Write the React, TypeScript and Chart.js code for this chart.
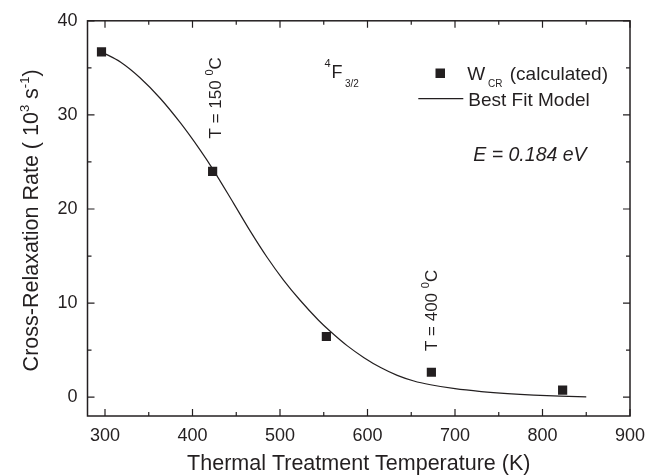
import React, { useEffect, useRef } from "react";
import { Chart, registerables } from "chart.js";

Chart.register(...registerables);

// ---- data ----
const measuredTemperatures = [296, 423, 553, 673, 823];
const measuredRates = [36.7, 24.0, 6.45, 2.65, 0.75];

const fitTemperatures = [296, 318, 340, 363, 386, 409, 423, 447, 466, 485, 504, 523, 544, 558, 577, 596, 615, 634, 653, 672, 700, 730, 760, 790, 820, 850];
const fitRates = [36.7, 35.6, 33.95, 31.77, 29.17, 26.23, 24.27, 20.6, 17.65, 14.9, 12.45, 10.3, 8.18, 6.95, 5.45, 4.2, 3.15, 2.32, 1.72, 1.32, 0.9, 0.6, 0.38, 0.22, 0.11, 0.04];

const xTickValues = [300, 400, 500, 600, 700, 800, 900];
const yTickValues = [0, 10, 20, 30, 40];

const INK = "#231f20";
const FONT = '"Liberation Sans", Arial, Helvetica, sans-serif';

type Part = { t: string; size: number; dy?: number; italic?: boolean };

function setFont(ctx: CanvasRenderingContext2D, p: Part) {
  ctx.font = `${p.italic ? "italic " : ""}${p.size}px ${FONT}`;
}
function measureRich(ctx: CanvasRenderingContext2D, parts: Part[]) {
  let w = 0;
  for (const p of parts) {
    setFont(ctx, p);
    w += ctx.measureText(p.t).width;
  }
  return w;
}
function drawRich(ctx: CanvasRenderingContext2D, parts: Part[], x: number, y: number) {
  let cx = x;
  ctx.textAlign = "left";
  ctx.textBaseline = "alphabetic";
  for (const p of parts) {
    setFont(ctx, p);
    ctx.fillText(p.t, cx, y + (p.dy || 0));
    cx += ctx.measureText(p.t).width;
  }
}

const decorPlugin = {
  id: "decor",
  afterDraw(chart: any) {
    const { ctx, chartArea: a, scales } = chart;
    const xs = scales.x;
    const ys = scales.y;
    ctx.save();
    ctx.strokeStyle = INK;
    ctx.fillStyle = INK;

    // frame
    ctx.lineWidth = 1.5;
    ctx.strokeRect(a.left, a.top, a.right - a.left, a.bottom - a.top);

    // inward ticks on all four sides
    ctx.lineWidth = 1.2;
    ctx.beginPath();
    for (let v = 300; v <= 900; v += 50) {
      const px = xs.getPixelForValue(v);
      const len = v % 100 === 0 ? 7 : 4;
      ctx.moveTo(px, a.bottom);
      ctx.lineTo(px, a.bottom - len);
      ctx.moveTo(px, a.top);
      ctx.lineTo(px, a.top + len);
    }
    for (let v = 0; v <= 40; v += 5) {
      const py = ys.getPixelForValue(v);
      const len = v % 10 === 0 ? 7 : 4;
      ctx.moveTo(a.left, py);
      ctx.lineTo(a.left + len, py);
      ctx.moveTo(a.right, py);
      ctx.lineTo(a.right - len, py);
    }
    ctx.stroke();

    // x axis title
    const xt: Part[] = [{ t: "Thermal Treatment Temperature (K)", size: 21.5 }];
    const xtw = measureRich(ctx, xt);
    drawRich(ctx, xt, (a.left + a.right) / 2 - xtw / 2, 470);

    // y axis title (rotated)
    const yt: Part[] = [
      { t: "Cross-Relaxation Rate ( 10", size: 21.5 },
      { t: "3", size: 13, dy: -9 },
      { t: " s", size: 21.5 },
      { t: "-1", size: 13, dy: -9 },
      { t: ")", size: 21.5 },
    ];
    const ytw = measureRich(ctx, yt);
    ctx.save();
    ctx.translate(38, (a.top + a.bottom) / 2 + 2);
    ctx.rotate(-Math.PI / 2);
    drawRich(ctx, yt, -ytw / 2, 0);
    ctx.restore();

    // rotated temperature annotations
    const rotLabel = (xv: number, yv: number, parts: Part[]) => {
      ctx.save();
      ctx.translate(xs.getPixelForValue(xv), ys.getPixelForValue(yv));
      ctx.rotate(-Math.PI / 2);
      drawRich(ctx, parts, 0, 0);
      ctx.restore();
    };
    rotLabel(432, 27.5, [
      { t: "T = 150 ", size: 17 },
      { t: "0", size: 11, dy: -8 },
      { t: "C", size: 17 },
    ]);
    rotLabel(679.5, 4.9, [
      { t: "T = 400 ", size: 17 },
      { t: "0", size: 11, dy: -8 },
      { t: "C", size: 17 },
    ]);

    // 4F3/2 level label
    drawRich(ctx, [{ t: "4", size: 11 }], 324.5, 67);
    drawRich(ctx, [{ t: "F", size: 18 }], 331.5, 78.3);
    drawRich(ctx, [{ t: "3/2", size: 10 }], 345, 87);

    // legend
    ctx.fillRect(435.5, 68.5, 9.5, 9.5);
    drawRich(ctx, [{ t: "W", size: 19 }], 467.3, 80);
    drawRich(ctx, [{ t: "CR", size: 10 }], 488, 87.3);
    drawRich(ctx, [{ t: " (calculated)", size: 19 }], 504.5, 80);
    ctx.lineWidth = 1.2;
    ctx.beginPath();
    ctx.moveTo(418.3, 98.7);
    ctx.lineTo(463.3, 98.7);
    ctx.stroke();
    drawRich(ctx, [{ t: "Best Fit Model", size: 19 }], 468.3, 106);

    // activation energy
    drawRich(ctx, [{ t: "E = 0.184 eV", size: 19.5, italic: true }], 473.3, 161);

    ctx.restore();
  },
};

export default function App() {
  const ref = useRef<HTMLCanvasElement | null>(null);

  useEffect(() => {
    document.body.style.margin = "0";
    const canvas = ref.current;
    if (!canvas) return;
    const chart = new Chart(canvas, {
      type: "line",
      data: {
        datasets: [
          {
            label: "Best Fit Model",
            data: fitTemperatures.map((t, i) => ({ x: t, y: fitRates[i] })),
            borderColor: INK,
            borderWidth: 1.2,
            pointRadius: 0,
            fill: false,
            cubicInterpolationMode: "monotone",
          },
          {
            label: "W_CR (calculated)",
            data: measuredTemperatures.map((t, i) => ({ x: t, y: measuredRates[i] })),
            showLine: false,
            pointStyle: "rect",
            pointRadius: 6.5,
            pointBackgroundColor: INK,
            pointBorderColor: INK,
            pointBorderWidth: 0,
            borderColor: INK,
          },
        ],
      },
      options: {
        responsive: false,
        animation: false,
        layout: { padding: { left: 0, right: 32, top: 19, bottom: 0 } },
        plugins: {
          legend: { display: false },
          tooltip: { enabled: false },
        },
        scales: {
          x: {
            type: "linear",
            min: 280,
            max: 900,
            afterBuildTicks: (s: any) => {
              s.ticks = xTickValues.map((v) => ({ value: v }));
            },
            afterFit: (s: any) => {
              s.height = 59;
            },
            grid: { display: false, drawTicks: false },
            border: { display: false },
            ticks: {
              padding: 9,
              color: INK,
              font: { family: FONT, size: 18 },
              maxRotation: 0,
            },
          },
          y: {
            type: "linear",
            min: -2,
            max: 40,
            afterBuildTicks: (s: any) => {
              s.ticks = yTickValues.map((v) => ({ value: v }));
            },
            afterFit: (s: any) => {
              s.width = 87.5;
            },
            grid: { display: false, drawTicks: false },
            border: { display: false },
            ticks: {
              padding: 10,
              color: INK,
              font: { family: FONT, size: 18 },
            },
          },
        },
      },
      plugins: [decorPlugin],
    });
    return () => chart.destroy();
  }, []);

  return (
    <div style={{ width: 662, height: 475, background: "#fff" }}>
      <canvas ref={ref} width={662} height={475} style={{ display: "block" }} />
    </div>
  );
}
